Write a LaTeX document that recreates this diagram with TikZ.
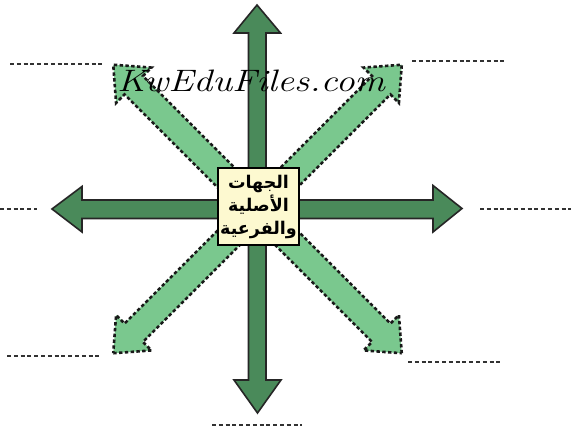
\documentclass[tikz,border=0pt]{standalone}
\usepackage{fontspec}
\newfontfamily\arabicfont[Script=Arabic]{DejaVu Sans}
\TeXXeTstate=1
\definecolor{darkgr}{RGB}{74,138,90}
\definecolor{lightgr}{RGB}{122,200,142}
\definecolor{boxfill}{RGB}{253,249,208}
\definecolor{dotgray}{RGB}{50,50,50}
\tikzset{
  mainarrow/.style={fill=darkgr, draw=black!85, line width=1.6pt, line join=miter},
  diagarrow/.style={fill=lightgr, draw=black!90, line width=2.6pt, dash pattern=on 3.4pt off 2.4pt, line join=miter},
  blankline/.style={draw=dotgray, line width=2.6pt, dash pattern=on 4pt off 2.8pt},
  centerbox/.style={draw=black, line width=1.8pt, fill=boxfill, minimum width=81pt, minimum height=77pt, align=center, inner sep=0pt, font=\arabicfont\bfseries\fontsize{17.5}{23}\selectfont}
}
\begin{document}
\begin{tikzpicture}[x=1pt,y=-1pt]
\useasboundingbox[fill=white] (0,0) rectangle (571,435);
% diagonal arrows
\foreach \ang in {45,135}{
\begin{scope}[shift={(257.5,209)}, rotate=\ang]
\path[diagarrow] (-204,0) -- (-175,25) -- (-175,13) -- (175,13) -- (175,25) -- (204,0) -- (175,-25) -- (175,-13) -- (-175,-13) -- (-175,-25) -- cycle;
\end{scope}
}
% vertical arrow
\path[mainarrow] (257,5) -- (280.5,33) -- (266,33) -- (266,380) -- (281,380) -- (257.5,413) -- (234,380) -- (248.5,380) -- (248.5,33) -- (234,33) -- cycle;
% horizontal arrow
\path[mainarrow] (52,209) -- (82,186.5) -- (82,200) -- (433,200) -- (433,185.5) -- (462,208.5) -- (433,232) -- (433,218.5) -- (82,218.5) -- (82,232) -- cycle;
% centre box
\node[centerbox] (centre) at (258.5,206.5) {\beginR الجهات\endR\\ \beginR الأصلية\endR\\ \beginR والفرعية\endR};
% blank answer lines
\draw[blankline] (10,64) -- (103,64);
\draw[blankline] (412,61) -- (507,61);
\draw[blankline] (0,209) -- (37,209);
\draw[blankline] (480,209) -- (571,209);
\draw[blankline] (7,356) -- (100,356);
\draw[blankline] (408,362) -- (503,362);
\draw[blankline] (212,425) -- (302,425);
% watermark
\node[font=\itshape\fontsize{31}{31}\selectfont, anchor=base west, inner sep=0pt, xscale=1.22] (mark) at (117,92) {KwEduFiles.com};
\end{tikzpicture}
\end{document}
